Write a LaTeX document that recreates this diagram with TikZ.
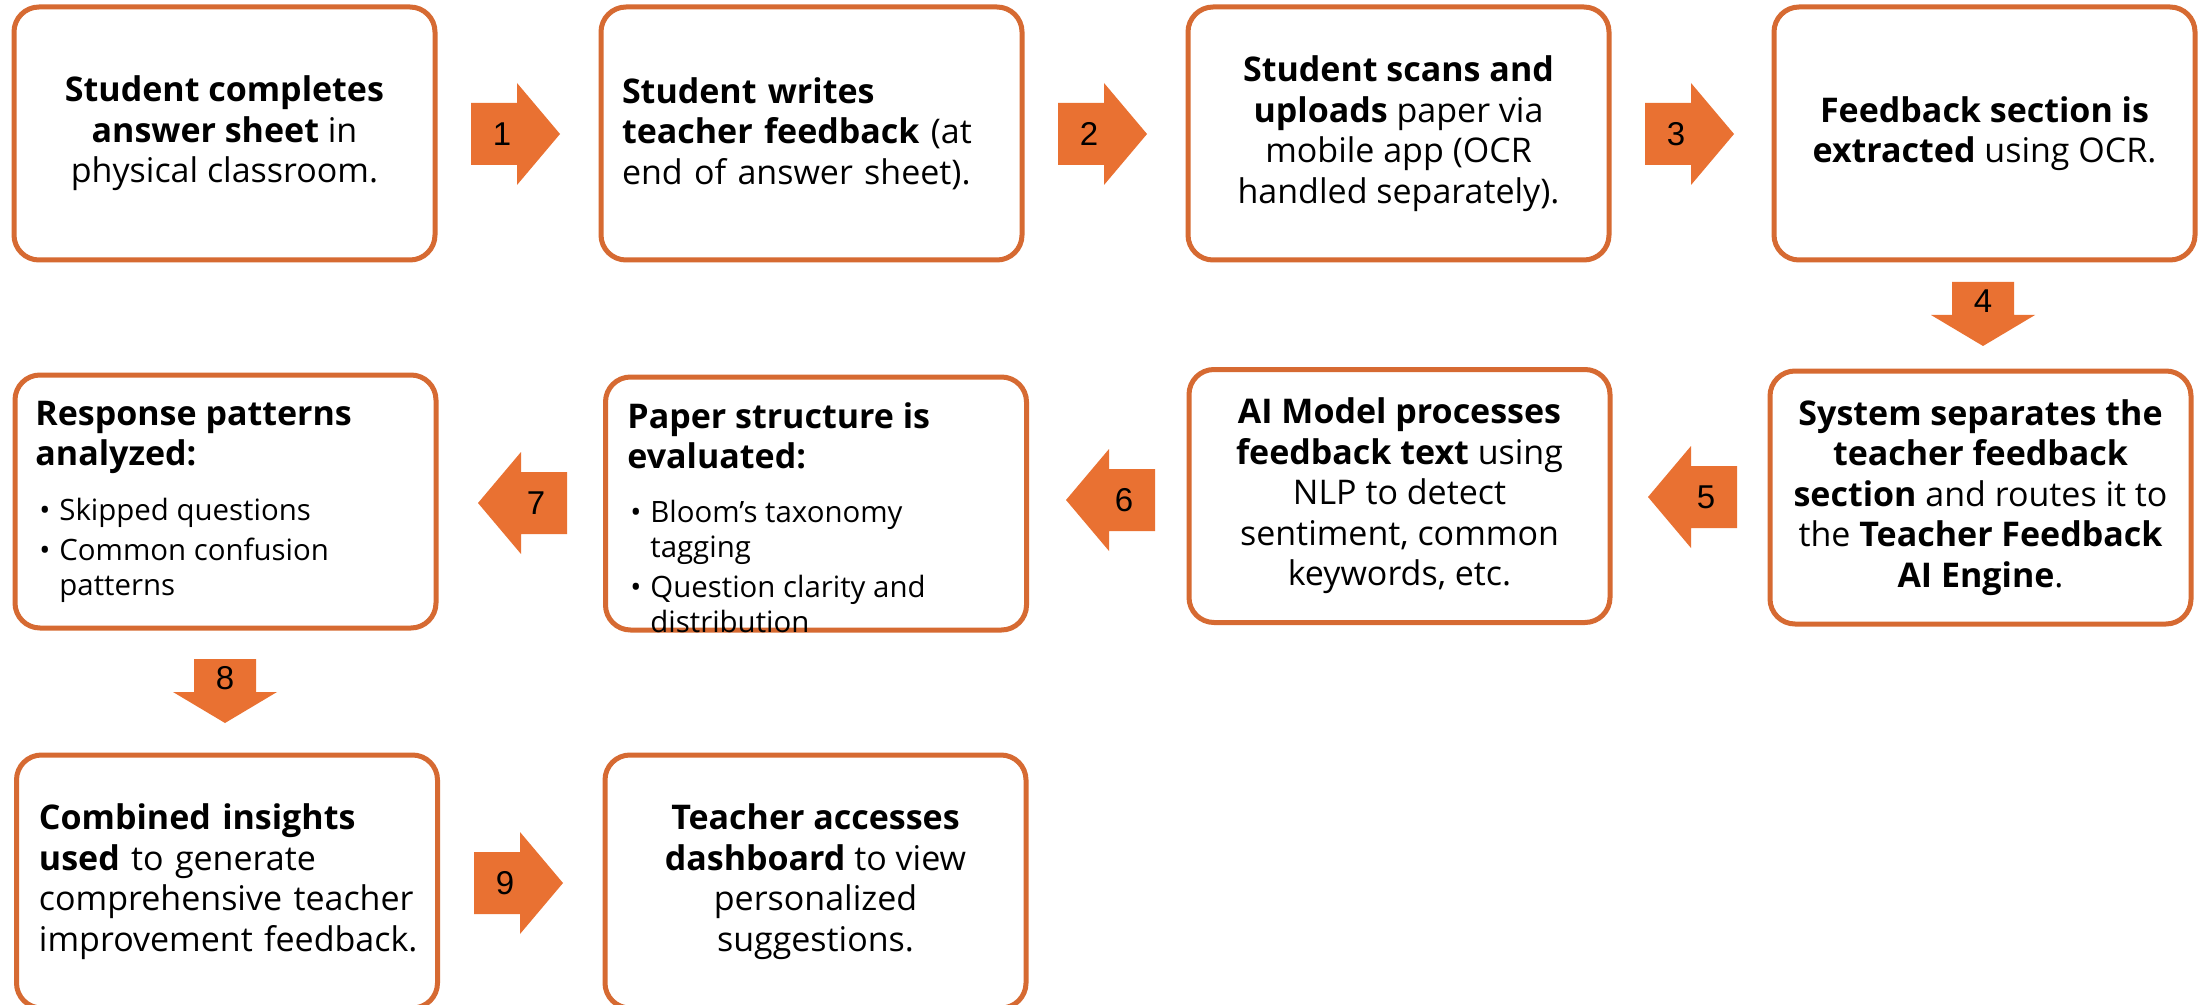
\documentclass[tikz,border=0pt]{standalone}
\usepackage{fontspec}
\setmainfont{Open Sans}
\newfontfamily\numfont{Liberation Sans}
\definecolor{boxline}{RGB}{214,106,50}
\definecolor{arrowfill}{HTML}{E97132}
\newcommand\bodyfont{\fontsize{17}{20.25}\selectfont}
\newcommand\itemfont{\fontsize{14.7}{17.75}\selectfont}
\tikzset{
  flowbox/.style={draw=boxline, line width=2.5pt, rounded corners=12.5pt, fill=white,
    minimum width=210.5pt, minimum height=126.5pt, inner sep=0pt, font=\bodyfont},
  ctext/.style={align=center},
  ltext/.style={align=left, text width=189.5pt},
  blocktxt/.style={anchor=base west, inner sep=0pt},
  numlabel/.style={font=\numfont\fontsize{16.5}{19}\selectfont, inner sep=0pt},
  arrowshape/.style={fill=arrowfill, draw=none},
}
% block arrows: name, x, y, number
\newcommand\blockR[4]{%
  \fill[arrowshape] (#2,#3) ++(0,-31) -- ++(46,0) -- ++(0,-20) -- ++(43,51) -- ++(-43,51) -- ++(0,-20) -- ++(-46,0) -- cycle;
  \node[numlabel] (#1) at (#2+31,#3) {#4};}
\newcommand\blockL[4]{%
  \fill[arrowshape] (#2,#3) -- ++(43,-51) -- ++(0,20) -- ++(46,0) -- ++(0,62) -- ++(-46,0) -- ++(0,20) -- cycle;
  \node[numlabel] (#1) at (#2+58,#3) {#4};}
\newcommand\blockD[4]{%
  \fill[arrowshape] (#2,#3) ++(-31,0) -- ++(62,0) -- ++(0,33) -- ++(21,0) -- ++(-52,31) -- ++(-52,-31) -- ++(21,0) -- cycle;
  \node[numlabel] (#1) at (#2,#3+19) {#4};}
\begin{document}
\begin{tikzpicture}[x=0.5pt,y=-0.5pt]
\useasboundingbox (0,0) rectangle (2203,1005);
\fill[white] (0,0) rectangle (2203,1005);
\clip (0,0) rectangle (2203,1005);

% Row 1
\node[flowbox, ctext] (b1) at (224.5,133.5)
  {\textbf{Student completes}\\ \textbf{answer sheet} in\\ physical classroom.};
\node[flowbox, ltext] (b2) at (811.5,133.5)
  {\textbf{Student writes}\\ \mbox{\textbf{teacher feedback} (at}\\ \mbox{end of answer sheet).}};
\node[flowbox, ctext] (b3) at (1398.5,133.5)
  {\textbf{Student scans and}\\ \textbf{uploads} paper via\\ mobile app (OCR\\ handled separately).};
\node[flowbox, ctext] (b4) at (1984.5,133.5)
  {\textbf{Feedback section is}\\ \textbf{extracted} using OCR.};

% Row 2
\node[flowbox, ctext] (b5) at (1980.5,497.5)
  {\textbf{System separates the}\\ \textbf{teacher feedback}\\ \textbf{section} and routes it to\\ the \textbf{Teacher Feedback}\\ \textbf{AI Engine}.};
\node[flowbox, ctext] (b6) at (1399.5,496)
  {\textbf{AI Model processes}\\ \textbf{feedback text} using\\ NLP to detect\\ sentiment, common\\ keywords, etc.};
\node[flowbox] (b7) at (816,503.5) {};
\node[flowbox] (b8) at (225.5,501.5) {};

% Row 3
\node[flowbox, ltext, text width=188pt] (b9) at (227,881.5)
  {\mbox{\textbf{Combined insights}}\\ \mbox{\textbf{used} to generate}\\ \mbox{comprehensive teacher}\\ \mbox{improvement feedback.}};
\node[flowbox, ctext] (b10) at (815.5,881.5)
  {\textbf{Teacher accesses}\\ \textbf{dashboard} to view\\ personalized\\ suggestions.};

% bullet box texts
\node[blocktxt, font=\bodyfont] (b7t) at (627,428)
  {\begin{tabular}[t]{@{}l@{}}\textbf{Paper structure is}\\ \textbf{evaluated:}\end{tabular}};
\node[blocktxt, font=\itemfont] (b7i) at (630,522)
  {\begin{tabular}[t]{@{}l@{}}\makebox[10pt][l]{•}Bloom’s taxonomy\\ \hspace*{10pt}tagging\end{tabular}};
\node[blocktxt, font=\itemfont] (b7j) at (630,597)
  {\begin{tabular}[t]{@{}l@{}}\makebox[10pt][l]{•}Question clarity and\\ \hspace*{10pt}distribution\end{tabular}};
\node[blocktxt, font=\bodyfont] (b8t) at (35,425)
  {\begin{tabular}[t]{@{}l@{}}\textbf{Response patterns}\\ \textbf{analyzed:}\end{tabular}};
\node[blocktxt, font=\itemfont] (b8i) at (39,520)
  {\begin{tabular}[t]{@{}l@{}}\makebox[10pt][l]{•}Skipped questions\end{tabular}};
\node[blocktxt, font=\itemfont] (b8j) at (39,560)
  {\begin{tabular}[t]{@{}l@{}}\makebox[10pt][l]{•}Common confusion\\ \hspace*{10pt}patterns\end{tabular}};

% block arrows
\blockR{a1}{471}{134}{1}
\blockR{a2}{1058}{134}{2}
\blockR{a3}{1645}{134}{3}
\blockD{a4}{1983}{282}{4}
\blockL{a5}{1648}{497}{5}
\blockL{a6}{1066}{500}{6}
\blockL{a7}{478}{503}{7}
\blockD{a8}{225}{659}{8}
\blockR{a9}{474}{883}{9}
\end{tikzpicture}
\end{document}
